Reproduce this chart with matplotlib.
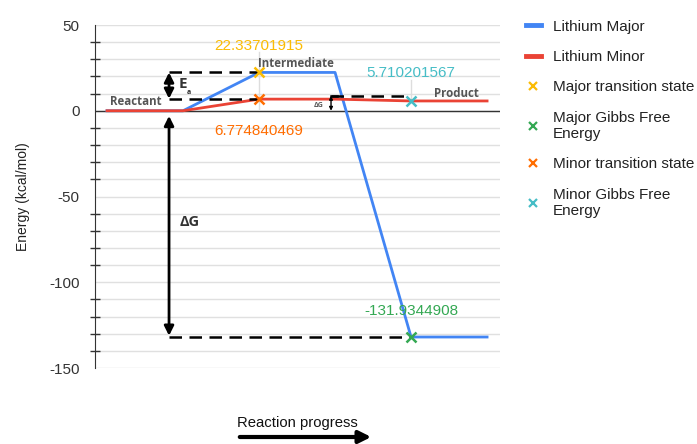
import matplotlib.pyplot as plt
from matplotlib.lines import Line2D
from matplotlib.patches import FancyArrowPatch

plt.rcParams['font.family'] = ['Liberation Sans', 'DejaVu Sans']
plt.rcParams['axes.unicode_minus'] = False

# data
steps = [0, 1, 2, 3, 4, 5]
major = [0, 0, 22.33701915, 22.33701915, -131.9344908, -131.9344908]
minor = [0, 0, 6.774840469, 6.774840469, 5.710201567, 5.710201567]

ts_step = 2
gibbs_step = 4
major_ts = 22.33701915
major_gibbs = -131.9344908
minor_ts = 6.774840469
minor_gibbs = 5.710201567

c_major = '#4285f4'
c_minor = '#ea4335'
c_major_ts = '#fbbc04'
c_major_g = '#34a853'
c_minor_ts = '#ff6d01'
c_minor_g = '#46bdc6'

fig = plt.figure(figsize=(6.97, 4.44), dpi=100)
ax = fig.add_axes([95/697, 1-368/444, 405/697, 343/444])

ax.set_xlim(-0.158, 5.17)
ax.set_ylim(-150, 50)

# grid
for v in range(-150, 51, 10):
    ax.axhline(v, color='#e0e0e0', lw=1, zorder=0)
ax.axhline(0, color='#333333', lw=1, zorder=1)

# faint leader lines
ax.plot([ts_step, ts_step], [minor_ts - 6, major_ts + 12], color='#dddddd', lw=1, zorder=1)
ax.plot([gibbs_step, gibbs_step], [minor_gibbs, minor_gibbs + 12], color='#dddddd', lw=1, zorder=1)

ax.plot(steps, major, color=c_major, lw=2, zorder=3)
ax.plot(steps, minor, color=c_minor, lw=2, zorder=3)

mk = dict(marker='x', ms=7, mew=1.8, ls='none', zorder=5)
ax.plot([ts_step], [major_ts], color=c_major_ts, **mk)
ax.plot([gibbs_step], [major_gibbs], color=c_major_g, **mk)
ax.plot([ts_step], [minor_ts], color=c_minor_ts, **mk)
ax.plot([gibbs_step], [minor_gibbs], color=c_minor_g, **mk)

lab = dict(textcoords='offset points', ha='center', va='center', fontsize=11)
ax.annotate(f'{major_ts:.8f}', (ts_step, major_ts), xytext=(0, 19), color=c_major_ts, **lab)
ax.annotate(f'{minor_ts:.9f}', (ts_step, minor_ts), xytext=(0, -23), color=c_minor_ts, **lab)
ax.annotate(f'{minor_gibbs:.9f}', (gibbs_step, minor_gibbs), xytext=(0, 20), color=c_minor_g, **lab)
ax.annotate(f'{major_gibbs:.7f}', (gibbs_step, major_gibbs), xytext=(0, 19), color=c_major_g, **lab)

# overlay sketch: dashed guides and arrows
dash = dict(color='black', lw=1.8, ls=(0, (5, 3)), zorder=4)
x_ea = 0.816
ax.plot([x_ea, ts_step], [major_ts, major_ts], **dash)
ax.plot([x_ea, ts_step], [7.0, 7.0], **dash)
ax.plot([x_ea, gibbs_step], [major_gibbs, major_gibbs], **dash)
ax.plot([2.947, gibbs_step], [8.7, 8.7], **dash)
ax.plot([2.947, 3.02], [8.7, 8.7], color='black', lw=1.8, zorder=4)

ax.annotate('', xy=(x_ea, major_ts), xytext=(x_ea, 7.0),
            arrowprops=dict(arrowstyle='<|-|>', color='black', lw=2, mutation_scale=14,
                            shrinkA=0, shrinkB=0))
ax.annotate('', xy=(x_ea, -3), xytext=(x_ea, -131.2),
            arrowprops=dict(arrowstyle='<|-|>', color='black', lw=2, mutation_scale=14,
                            shrinkA=0, shrinkB=0))
ax.annotate('', xy=(2.947, 8.7), xytext=(2.947, 0),
            arrowprops=dict(arrowstyle='<|-|>', color='black', lw=1, mutation_scale=5,
                            shrinkA=0, shrinkB=0))

ax.text(0.94, 15.8, 'E', fontsize=11, fontweight='bold', color='#333333',
        family='Open Sans', ha='left', va='center')
ax.text(1.05, 10.5, 'a', fontsize=5, fontweight='bold', color='#333333',
        family='Open Sans', ha='left', va='center')
ax.text(0.95, -65, 'ΔG', fontsize=10.5, fontweight='bold', color='#333333',
        family='Open Sans', ha='left', va='center')
ax.text(2.78, 3.0, 'ΔG', fontsize=5, fontweight='bold', color='#555555',
        family='Open Sans', ha='center', va='center')
note = dict(fontsize=8.3, fontweight='bold', color='#555555', family='Open Sans',
            ha='center', va='center')
ax.text(0.38, 5.2, 'Reactant', **note)
ax.text(2.49, 27.4, 'Intermediate', **note)
ax.text(4.6, 10.2, 'Product', **note)

# axes styling
for s in ['top', 'right', 'bottom']:
    ax.spines[s].set_visible(False)
ax.spines['left'].set_color('#333333')
ax.set_xticks([])
ax.set_yticks([-150, -100, -50, 0, 50])
ax.set_yticks([v for v in range(-140, 50, 10) if v % 50], minor=True)
ax.tick_params(axis='y', which='major', length=0, pad=11, labelsize=11, labelcolor='#333333')
ax.tick_params(axis='y', which='minor', direction='inout', length=7, width=1, color='#333333')
ax.set_ylabel('Energy (kcal/mol)', fontsize=10, color='#222222', labelpad=14)

fig.text(297/697, 1-423/444, 'Reaction progress', ha='center', va='center',
         fontsize=10.7, color='#111111')
fig.add_artist(FancyArrowPatch(
    (237/697, 1-437/444), (374/697, 1-437/444), transform=fig.transFigure,
    arrowstyle='-|>', mutation_scale=18, lw=3, color='black'))

handles = [
    Line2D([], [], color=c_major, lw=3.5),
    Line2D([], [], color=c_minor, lw=3.5),
    Line2D([], [], color=c_major_ts, marker='x', ls='none', ms=6, mew=1.6),
    Line2D([], [], color=c_major_g, marker='x', ls='none', ms=6, mew=1.6),
    Line2D([], [], color=c_minor_ts, marker='x', ls='none', ms=6, mew=1.6),
    Line2D([], [], color=c_minor_g, marker='x', ls='none', ms=6, mew=1.6),
]
labels = ['Lithium Major', 'Lithium Minor', 'Major transition state',
          'Major Gibbs Free\nEnergy', 'Minor transition state', 'Minor Gibbs Free\nEnergy']
fig.legend(handles, labels, loc='upper left', bbox_to_anchor=(518/697, 1-12/444),
           frameon=False, fontsize=11, handlelength=1.0, handletextpad=0.8,
           labelspacing=1.07, labelcolor='#222222', borderpad=0)

fig.savefig('out.png', dpi=100)
